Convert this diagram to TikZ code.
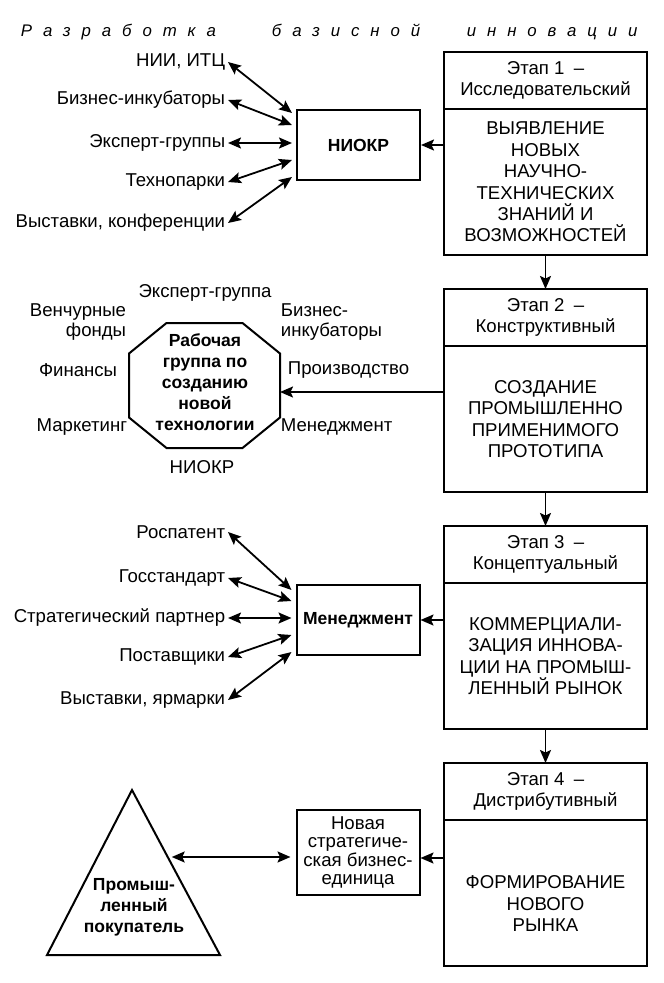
\documentclass[tikz,border=0pt]{standalone}
\usepackage{fontspec}
\setmainfont{Liberation Sans}
\usetikzlibrary{arrows.meta, positioning, calc}

\tikzset{
    txt/.style={font=\fontsize{18.6}{21.4}\selectfont, inner sep=2pt, align=center},
    bold/.style={font=\fontsize{17.5}{21}\selectfont\bfseries, inner sep=2pt, align=center},
    heading/.style={font=\fontsize{16.8}{20}\selectfont\itshape\addfontfeature{LetterSpace=65}, inner sep=0pt, anchor=base west},
    lbl/.style={txt, anchor=east},
    rlbl/.style={txt, anchor=west, align=left},
    stagehead/.style={txt, draw, line width=2pt, minimum width=203pt, minimum height=57pt, outer sep=0pt},
    stagebody/.style={txt, draw, line width=2pt, minimum width=203pt, minimum height=146pt, outer sep=0pt},
    unit/.style={draw, line width=2pt, minimum width=123pt, minimum height=70pt},
}

\begin{document}
\begin{tikzpicture}[
    x=1pt, y=-1pt,
    >={Stealth[length=13pt, width=11pt, inset=2.5pt]},
    line width=1.8pt,
    node distance=34pt,
]
    \useasboundingbox (0,0) rectangle (664,983);

    \node[heading] (word1) at (20,36)  {Разработка};
    \node[heading] (word2) at (271,36) {базисной};
    \node[heading] (word3) at (466,36) {инновации};

    \node[stagehead]                     (t1) at (545.5,80.5) {Этап 1\enskip–\\Исследовательский};
    \node[stagebody, below=0pt of t1]    (b1) {ВЫЯВЛЕНИЕ\\НОВЫХ\\НАУЧНО-\\ТЕХНИЧЕСКИХ\\ЗНАНИЙ И\\ВОЗМОЖНОСТЕЙ};
    \node[stagehead, below=of b1]        (t2) {Этап 2\enskip–\\Конструктивный};
    \node[stagebody, below=0pt of t2]    (b2) {СОЗДАНИЕ\\ПРОМЫШЛЕННО\\ПРИМЕНИМОГО\\ПРОТОТИПА};
    \node[stagehead, below=of b2]        (t3) {Этап 3\enskip–\\Концептуальный};
    \node[stagebody, below=0pt of t3]    (b3) {КОММЕРЦИАЛИ-\\ЗАЦИЯ ИННОВА-\\ЦИИ НА ПРОМЫШ-\\ЛЕННЫЙ РЫНОК};
    \node[stagehead, below=of b3]        (t4) {Этап 4\enskip–\\Дистрибутивный};
    \node[stagebody, below=0pt of t4]    (b4) {\rule{0pt}{34pt}ФОРМИРОВАНИЕ\\НОВОГО\\РЫНКА};

    \node[unit, bold] (niokr) at (358.5,145) {НИОКР};
    \node[lbl] (nii)   at (228,62)  {НИИ, ИТЦ};
    \node[lbl] (incub) at (228,100) {Бизнес-инкубаторы};
    \node[lbl] (exprt) at (228,143) {Эксперт-группы};
    \node[lbl] (tpark) at (228,182) {Технопарки};
    \node[lbl] (conf)  at (228,223) {Выставки, конференции};

    % octagon of the working group
    \coordinate (oc) at (204.5,385.5);
    \draw[line width=2pt, shift={(oc)}]
        (-38,-62.5) -- (38,-62.5) -- (75.5,-32) -- (75.5,32)
        -- (38,62.5) -- (-38,62.5) -- (-75.5,32) -- (-75.5,-32) -- cycle;
    \coordinate (team-e) at ($(oc)+(75.5,6.5)$);
    \node[bold]               (team)  at (205,382) {Рабочая\\группа по\\созданию\\новой\\технологии};
    \node[txt]                (texp)  at (205,293) {Эксперт-группа};
    \node[lbl, align=right, font=\fontsize{18.6}{19.5}\selectfont] (vent) at (129,322) {Венчурные\\фонды};
    \node[rlbl, font=\fontsize{18.6}{19.5}\selectfont]             (tinc) at (278,322) {Бизнес-\\инкубаторы};
    \node[lbl]                (fin)   at (120,370) {Финансы};
    \node[rlbl]               (prod)  at (285,370) {Производство};
    \node[lbl]                (mark)  at (130,427) {Маркетинг};
    \node[rlbl]               (tman)  at (278,427) {Менеджмент};
    \node[txt]                (tnio)  at (202,467) {НИОКР};

    \node[unit, bold] (mgmt) at (358,620) {Менеджмент};
    \node[lbl] (rospat) at (228,532) {Роспатент};
    \node[lbl] (gost)   at (228,578) {Госстандарт};
    \node[lbl] (partn)  at (228,618) {Стратегический партнер};
    \node[lbl] (suppl)  at (228,657) {Поставщики};
    \node[lbl] (fair)   at (228,700) {Выставки, ярмарки};

    \node[unit, txt, minimum height=85pt, font=\fontsize{18.6}{18.3}\selectfont]
        (sbu) at (358,852.5) {Новая\\стратегиче-\\ская бизнес-\\единица};

    % triangle of the buyer
    \coordinate (apex)  at (132,790);
    \coordinate (baseR) at (220,955);
    \coordinate (baseL) at (47,955);
    \draw[line width=2pt] (apex) -- (baseR) -- (baseL) -- cycle;
    \node[bold] (buyer) at (134,907) {Промыш-\\ленный\\покупатель};
    \coordinate (buyerE) at ($(apex)!0.406!(baseR)$);

    \path
        (b1) edge[->] (t2)
        (b2) edge[->] (t3)
        (b3) edge[->] (t4)
        (niokr.east -| b1.west) edge[->] (niokr.east)
        (team-e -| b2.west) edge[->] (team-e)
        (mgmt.east -| b3.west) edge[->] (mgmt.east)
        ([yshift=-5.5pt]sbu.east -| b4.west) edge[->] ([yshift=-5.5pt]sbu.east)
        (nii.east)   edge[<->] ([xshift=-4pt, yshift=32pt]niokr.west)
        (incub.east) edge[<->] ([xshift=-4pt, yshift=20pt]niokr.west)
        (exprt.east) edge[<->] ([xshift=-4pt, yshift=2pt]niokr.west)
        (tpark.east) edge[<->] ([xshift=-4pt, yshift=-15pt]niokr.west)
        (conf.east)  edge[<->] ([xshift=-4pt, yshift=-32pt]niokr.west)
        (rospat.east) edge[<->] ([xshift=-4pt, yshift=30pt]mgmt.west)
        (gost.east)   edge[<->] ([xshift=-4pt, yshift=19pt]mgmt.west)
        (partn.east)  edge[<->] ([xshift=-4pt, yshift=2pt]mgmt.west)
        (suppl.east)  edge[<->] ([xshift=-4pt, yshift=-15pt]mgmt.west)
        (fair.east)   edge[<->] ([xshift=-4pt, yshift=-32pt]mgmt.west)
        ([xshift=4pt]buyerE) edge[<->] ([xshift=-5pt]sbu.west |- buyerE)
    ;
\end{tikzpicture}
\end{document}
